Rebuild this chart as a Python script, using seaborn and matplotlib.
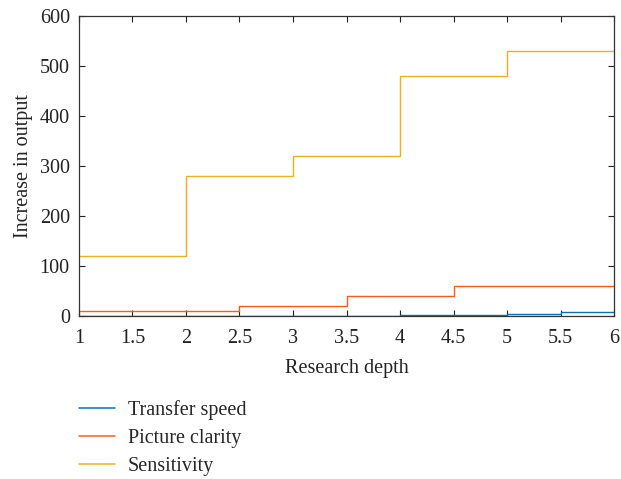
import matplotlib
matplotlib.use("Agg")
import matplotlib.pyplot as plt
import numpy as np
import pandas as pd
import seaborn as sns

# data (stairs, value holds until next x)
depth = [1, 1.5, 2, 2.5, 3, 3.5, 4, 4.5, 5, 5.5, 6]
transfer_speed = [0.5, 0.5, 0.5, 0.5, 0.5, 0.5, 2, 2, 5, 8, 8]
picture_clarity = [10, 10, 10, 20, 20, 40, 40, 60, 60, 60, 60]
sensitivity = [120, 120, 280, 280, 320, 320, 480, 480, 530, 530, 530]

series = ["Transfer speed", "Picture clarity", "Sensitivity"]
colors = ["#0072BD", "#FF5A1E", "#EDB120"]

df = pd.concat([
    pd.DataFrame({"depth": depth, "value": v, "series": name})
    for name, v in zip(series, [transfer_speed, picture_clarity, sensitivity])
])

sns.set_theme(style="white")
plt.rcParams["font.family"] = ["Liberation Serif", "DejaVu Serif"]
fs = 14.5

fig = plt.figure(figsize=(6.21, 4.79), dpi=100)
ax = fig.add_axes([0.127, 0.340, 0.862, 0.627])
sns.lineplot(data=df, x="depth", y="value", hue="series", hue_order=series,
             palette=colors, drawstyle="steps-post", linewidth=1.0, ax=ax,
             legend=False)

ax.set_xlim(1, 6)
ax.set_ylim(0, 600)
ax.set_xticks(np.arange(1, 6.01, 0.5))
ax.set_xticklabels(["1", "1.5", "2", "2.5", "3", "3.5", "4", "4.5", "5", "5.5", "6"])
ax.set_yticks(range(0, 601, 100))
ax.tick_params(direction="in", length=4, width=0.8, labelsize=fs, colors="#222222",
               top=True, right=True, bottom=True, left=True)
ax.tick_params(axis="x", pad=9)
ax.tick_params(axis="y", pad=6.5)
for s in ax.spines.values():
    s.set_color("#333333")
    s.set_linewidth(0.9)
ax.set_xlabel("Research depth", fontsize=fs, color="#222222", labelpad=8)
ax.set_ylabel("Increase in output", fontsize=fs, color="#222222", labelpad=5)

handles = [plt.Line2D([], [], color=c, lw=1.1) for c in colors]
fig.legend(handles, series, loc="upper left", bbox_to_anchor=(0.115, 0.182),
           frameon=False, fontsize=fs, handlelength=1.75, handletextpad=0.65,
           labelspacing=0.45, borderaxespad=0)

fig.savefig("out.png", dpi=100)
